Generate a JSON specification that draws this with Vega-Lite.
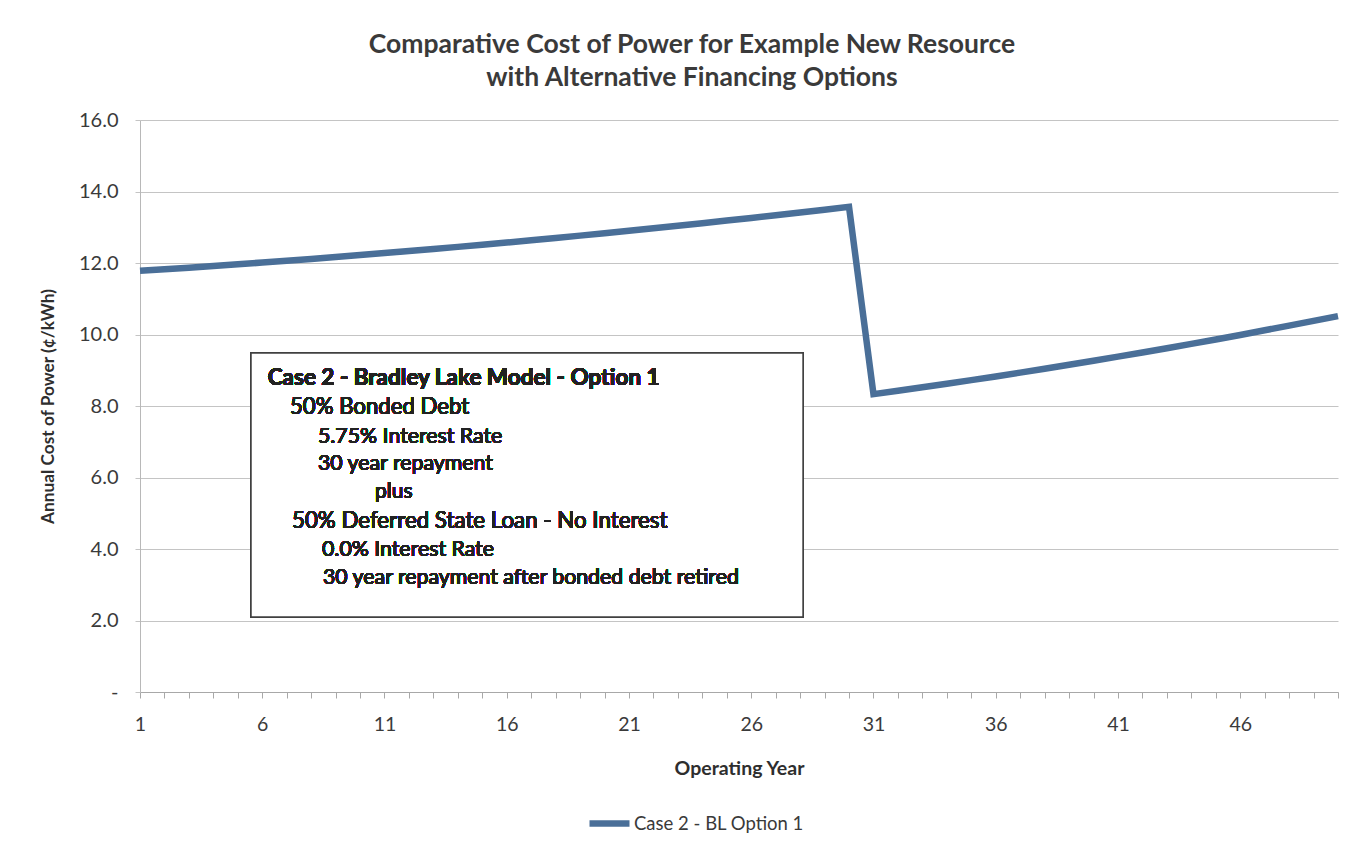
{
  "$schema": "https://vega.github.io/schema/vega-lite/v6.json",
  "autosize": "none",
  "width": 1198,
  "height": 572,
  "padding": {"left": 140, "top": 120, "right": 16, "bottom": 157},
  "background": "white",
  "config": {
    "font": "Lato",
    "view": {"stroke": null},
    "axis": {"labelFont": "Lato", "titleFont": "Lato", "labelColor": "#3a3a3a", "titleColor": "#2e2e2e"}
  },
  "title": {
    "text": ["Comparative Cost of Power for Example New Resource", "with Alternative Financing Options"],
    "anchor": "middle",
    "frame": "group",
    "dx": -47,
    "offset": 19,
    "fontSize": 26.5,
    "fontWeight": "bold",
    "font": "Lato",
    "color": "#3a3a3a",
    "lineHeight": 33
  },
  "data": {
    "values": [
      {"year": 1, "cost": 11.78, "series": "Case 2 - BL Option 1"},
      {"year": 2, "cost": 11.824, "series": "Case 2 - BL Option 1"},
      {"year": 3, "cost": 11.869, "series": "Case 2 - BL Option 1"},
      {"year": 4, "cost": 11.916, "series": "Case 2 - BL Option 1"},
      {"year": 5, "cost": 11.964, "series": "Case 2 - BL Option 1"},
      {"year": 6, "cost": 12.013, "series": "Case 2 - BL Option 1"},
      {"year": 7, "cost": 12.063, "series": "Case 2 - BL Option 1"},
      {"year": 8, "cost": 12.115, "series": "Case 2 - BL Option 1"},
      {"year": 9, "cost": 12.168, "series": "Case 2 - BL Option 1"},
      {"year": 10, "cost": 12.222, "series": "Case 2 - BL Option 1"},
      {"year": 11, "cost": 12.277, "series": "Case 2 - BL Option 1"},
      {"year": 12, "cost": 12.334, "series": "Case 2 - BL Option 1"},
      {"year": 13, "cost": 12.392, "series": "Case 2 - BL Option 1"},
      {"year": 14, "cost": 12.451, "series": "Case 2 - BL Option 1"},
      {"year": 15, "cost": 12.511, "series": "Case 2 - BL Option 1"},
      {"year": 16, "cost": 12.573, "series": "Case 2 - BL Option 1"},
      {"year": 17, "cost": 12.636, "series": "Case 2 - BL Option 1"},
      {"year": 18, "cost": 12.7, "series": "Case 2 - BL Option 1"},
      {"year": 19, "cost": 12.766, "series": "Case 2 - BL Option 1"},
      {"year": 20, "cost": 12.833, "series": "Case 2 - BL Option 1"},
      {"year": 21, "cost": 12.901, "series": "Case 2 - BL Option 1"},
      {"year": 22, "cost": 12.97, "series": "Case 2 - BL Option 1"},
      {"year": 23, "cost": 13.041, "series": "Case 2 - BL Option 1"},
      {"year": 24, "cost": 13.113, "series": "Case 2 - BL Option 1"},
      {"year": 25, "cost": 13.186, "series": "Case 2 - BL Option 1"},
      {"year": 26, "cost": 13.26, "series": "Case 2 - BL Option 1"},
      {"year": 27, "cost": 13.336, "series": "Case 2 - BL Option 1"},
      {"year": 28, "cost": 13.413, "series": "Case 2 - BL Option 1"},
      {"year": 29, "cost": 13.491, "series": "Case 2 - BL Option 1"},
      {"year": 30, "cost": 13.571, "series": "Case 2 - BL Option 1"},
      {"year": 31, "cost": 8.33, "series": "Case 2 - BL Option 1"},
      {"year": 32, "cost": 8.425, "series": "Case 2 - BL Option 1"},
      {"year": 33, "cost": 8.522, "series": "Case 2 - BL Option 1"},
      {"year": 34, "cost": 8.622, "series": "Case 2 - BL Option 1"},
      {"year": 35, "cost": 8.723, "series": "Case 2 - BL Option 1"},
      {"year": 36, "cost": 8.827, "series": "Case 2 - BL Option 1"},
      {"year": 37, "cost": 8.933, "series": "Case 2 - BL Option 1"},
      {"year": 38, "cost": 9.042, "series": "Case 2 - BL Option 1"},
      {"year": 39, "cost": 9.152, "series": "Case 2 - BL Option 1"},
      {"year": 40, "cost": 9.265, "series": "Case 2 - BL Option 1"},
      {"year": 41, "cost": 9.38, "series": "Case 2 - BL Option 1"},
      {"year": 42, "cost": 9.497, "series": "Case 2 - BL Option 1"},
      {"year": 43, "cost": 9.617, "series": "Case 2 - BL Option 1"},
      {"year": 44, "cost": 9.738, "series": "Case 2 - BL Option 1"},
      {"year": 45, "cost": 9.862, "series": "Case 2 - BL Option 1"},
      {"year": 46, "cost": 9.988, "series": "Case 2 - BL Option 1"},
      {"year": 47, "cost": 10.117, "series": "Case 2 - BL Option 1"},
      {"year": 48, "cost": 10.247, "series": "Case 2 - BL Option 1"},
      {"year": 49, "cost": 10.38, "series": "Case 2 - BL Option 1"},
      {"year": 50, "cost": 10.515, "series": "Case 2 - BL Option 1"}
    ]
  },
  "layer": [
    {
      "mark": {"type": "line", "strokeWidth": 6.5, "strokeJoin": "miter", "strokeCap": "butt"},
      "encoding": {
        "x": {
          "field": "year", "type": "quantitative",
          "scale": {"domain": [1, 50], "nice": false, "zero": false},
          "axis": {
            "title": "Operating Year",
            "titleFontSize": 19.5, "titleFontWeight": "bold", "titlePadding": 26,
            "values": [1,2,3,4,5,6,7,8,9,10,11,12,13,14,15,16,17,18,19,20,21,22,23,24,25,26,27,28,29,30,31,32,33,34,35,36,37,38,39,40,41,42,43,44,45,46,47,48,49,50],
            "tickCount": 60,
            "labelExpr": "(datum.value - 1) % 5 == 0 ? datum.label : ''",
            "labelFontSize": 19.5, "labelPadding": 17, "labelFlush": false, "labelOverlap": false,
            "grid": false, "tickSize": 6, "tickColor": "#a8a8a8", "domainColor": "#a8a8a8"
          }
        },
        "y": {
          "field": "cost", "type": "quantitative",
          "scale": {"domain": [0, 16], "nice": false},
          "axis": {
            "title": "Annual Cost of Power (¢/kWh)",
            "titleFontSize": 17.3, "titleFontWeight": "bold", "titlePadding": 21,
            "values": [0, 2, 4, 6, 8, 10, 12, 14, 16],
            "labelExpr": "datum.value == 0 ? '-' : format(datum.value, '.1f')",
            "labelFontSize": 20, "labelPadding": 17,
            "grid": true, "gridColor": "#c4c4c4", "gridWidth": 1,
            "tickSize": 5, "tickColor": "#c4c4c4", "domainColor": "#b8b8b8"
          }
        },
        "color": {
          "field": "series", "type": "nominal",
          "scale": {"range": ["#4a6f98"]},
          "legend": {
            "title": null, "orient": "none", "legendX": 446, "legendY": 680,
            "symbolType": "stroke", "symbolSize": 1600, "symbolStrokeWidth": 6.5,
            "labelFontSize": 18.5, "labelFont": "Lato", "labelColor": "#3a3a3a", "labelOffset": 1, "labelLimit": 400
          }
        }
      }
    },
    {
      "mark": {"type": "rect", "fill": "white", "stroke": "#404040", "strokeWidth": 1.5},
      "encoding": {
        "x": {"datum": 5.54, "type": "quantitative"},
        "x2": {"datum": 28.12},
        "y": {"datum": 9.483, "type": "quantitative"},
        "y2": {"datum": 2.098}
      }
    },
    {
      "mark": {"type": "text", "align": "left", "baseline": "middle", "fontSize": 22.5, "fontWeight": "bold", "color": "#222222", "font": "Lato"},
      "encoding": {"x": {"datum": 6.223, "type": "quantitative"}, "y": {"datum": 8.783, "type": "quantitative"}, "text": {"value": "Case 2 - Bradley Lake Model - Option 1"}}
    },
    {
      "mark": {"type": "text", "align": "left", "baseline": "middle", "fontSize": 22.2, "color": "#222222", "font": "Lato"},
      "encoding": {"x": {"datum": 7.135, "type": "quantitative"}, "y": {"datum": 7.972, "type": "quantitative"}, "text": {"value": "50% Bonded Debt"}}
    },
    {
      "mark": {"type": "text", "align": "left", "baseline": "middle", "fontSize": 21.3, "color": "#222222", "font": "Lato"},
      "encoding": {"x": {"datum": 8.28, "type": "quantitative"}, "y": {"datum": 7.133, "type": "quantitative"}, "text": {"value": "5.75% Interest Rate"}}
    },
    {
      "mark": {"type": "text", "align": "left", "baseline": "middle", "fontSize": 21.3, "color": "#222222", "font": "Lato"},
      "encoding": {"x": {"datum": 8.28, "type": "quantitative"}, "y": {"datum": 6.378, "type": "quantitative"}, "text": {"value": "30 year repayment"}}
    },
    {
      "mark": {"type": "text", "align": "left", "baseline": "middle", "fontSize": 21, "color": "#222222", "font": "Lato"},
      "encoding": {"x": {"datum": 10.61, "type": "quantitative"}, "y": {"datum": 5.594, "type": "quantitative"}, "text": {"value": "plus"}}
    },
    {
      "mark": {"type": "text", "align": "left", "baseline": "middle", "fontSize": 22.3, "color": "#222222", "font": "Lato"},
      "encoding": {"x": {"datum": 7.217, "type": "quantitative"}, "y": {"datum": 4.783, "type": "quantitative"}, "text": {"value": "50% Deferred State Loan - No Interest"}}
    },
    {
      "mark": {"type": "text", "align": "left", "baseline": "middle", "fontSize": 21.3, "color": "#222222", "font": "Lato"},
      "encoding": {"x": {"datum": 8.444, "type": "quantitative"}, "y": {"datum": 3.972, "type": "quantitative"}, "text": {"value": "0.0% Interest Rate"}}
    },
    {
      "mark": {"type": "text", "align": "left", "baseline": "middle", "fontSize": 21.3, "color": "#222222", "font": "Lato"},
      "encoding": {"x": {"datum": 8.485, "type": "quantitative"}, "y": {"datum": 3.189, "type": "quantitative"}, "text": {"value": "30 year repayment after bonded debt retired"}}
    }
  ]
}
